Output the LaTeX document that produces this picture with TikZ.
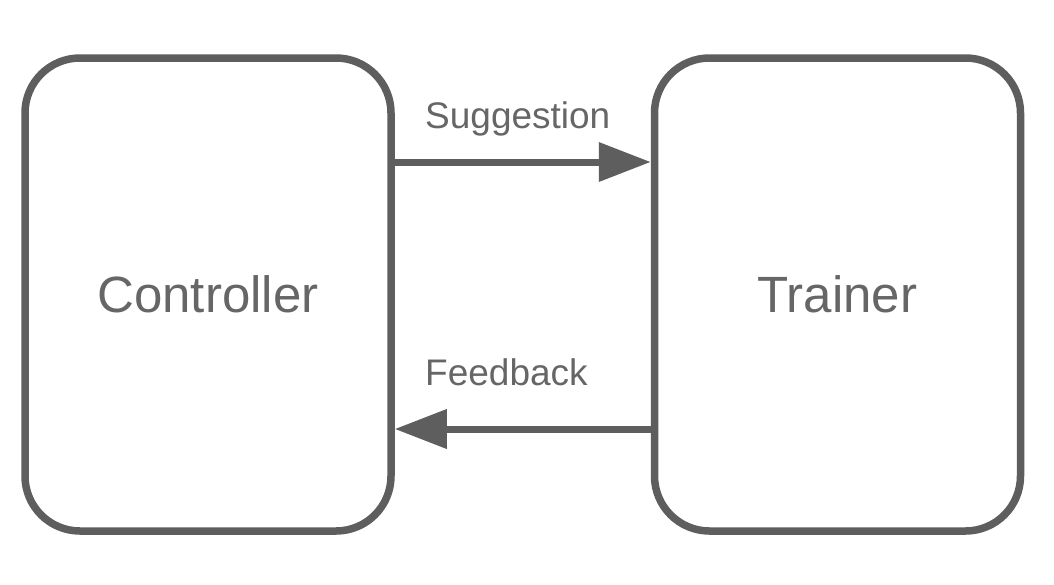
\documentclass[tikz,border=0pt]{standalone}
\usepackage{fontspec}
\setmainfont{Liberation Sans}
\usetikzlibrary{positioning, arrows.meta}
\definecolor{linegray}{HTML}{5E5E5E}
\definecolor{textgray}{HTML}{666666}

\begin{document}
\begin{tikzpicture}[
    x=1pt, y=-1pt,
    every node/.style={text=textgray},
    block/.style={rectangle, draw=linegray, line width=7.5pt, rounded corners=55pt,
        minimum width=366pt, minimum height=473pt, inner sep=0pt,
        font=\fontsize{51}{60}\selectfont},
    flowlabel/.style={anchor=base west, inner sep=0pt, font=\fontsize{37}{44}\selectfont},
    flow/.style={draw=linegray, line width=7pt, -{Triangle[length=52pt, width=38pt]}}
]
\useasboundingbox (0,0) rectangle (1054,584);

% Blocks
\node[block] (controller) at (208,294.5) {Controller};
\node[block, right=256pt of controller] (trainer) {Trainer};

% Rows of the arrows
\coordinate (sugg_row) at (0,162);
\coordinate (feed_row) at (0,429);

% Arrows
\draw[flow] (controller.east |- sugg_row) -- (trainer.west |- sugg_row);
\draw[flow] (trainer.west |- feed_row) -- (controller.east |- feed_row);

% Labels
\node[flowlabel] (sugg_label) at (425,128) {Suggestion};
\node[flowlabel] (feed_label) at (425,385) {Feedback};

\end{tikzpicture}
\end{document}
